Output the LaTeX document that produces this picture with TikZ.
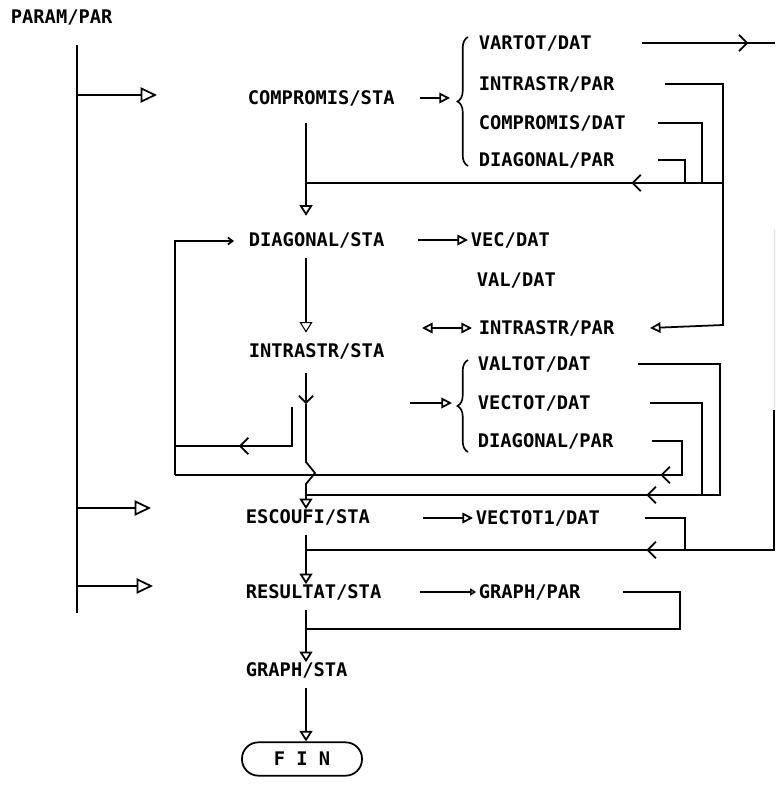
\documentclass[tikz,border=0pt]{standalone}
\usepackage{fontspec}
\newfontfamily\dvm{DejaVu Sans Mono}
\usetikzlibrary{arrows.meta,decorations.pathreplacing,decorations.markings}

\begin{document}
\begin{tikzpicture}[x=0.03cm, y=-0.03cm, line width=1.5pt,
    txt/.style = {font=\dvm\bfseries\fontsize{16}{18}\selectfont, inner sep=0pt, text depth=0pt, anchor=west},
    bus/.style = {-{Triangle[open,length=14pt,width=13pt]}},
    down/.style = {-{Triangle[open,length=9pt,width=11pt]}},
    tip/.style = {-{Triangle[open,length=9pt,width=9pt]}},
    dbl/.style = {{Triangle[open,length=9pt,width=9pt]}-{Triangle[open,length=9pt,width=9pt]}},
    midarr/.style = {postaction={decorate, decoration={markings,
        mark=at position #1 with {\arrow{Straight Barb[length=7pt,width=14pt]}}}}},
    brc/.style = {decorate, decoration={brace, amplitude=9pt}, line width=1.4pt}]
    \useasboundingbox (0,0) rectangle (775,785);

    \node[txt] (param) at (10,17) {PARAM/PAR};
    \node[txt] (cst) at (247,98) {COMPROMIS/STA};
    \node[txt] (vartot) at (478,43) {VARTOT/DAT};
    \node[txt] (intrp) at (478,84) {INTRASTR/PAR};
    \node[txt] (compd) at (478,123) {COMPROMIS/DAT};
    \node[txt] (diagp) at (478,160) {DIAGONAL/PAR};
    \node[txt] (dst) at (248,240) {DIAGONAL/STA};
    \node[txt] (vec) at (470,240) {VEC/DAT};
    \node[txt] (val) at (476,280) {VAL/DAT};
    \node[txt] (intrq) at (478,328) {INTRASTR/PAR};
    \node[txt] (ist) at (248,351) {INTRASTR/STA};
    \node[txt] (valtot) at (477,364) {VALTOT/DAT};
    \node[txt] (vectot) at (477,403) {VECTOT/DAT};
    \node[txt] (diagq) at (477,441) {DIAGONAL/PAR};
    \node[txt] (est) at (245,517) {ESCOUFI/STA};
    \node[txt] (vectoti) at (475,518) {VECTOT1/DAT};
    \node[txt] (rst) at (245,592) {RESULTAT/STA};
    \node[txt] (graphp) at (478,592) {GRAPH/PAR};
    \node[txt] (gst) at (245,670) {GRAPH/STA};
    \node[txt, anchor=center, draw, rounded corners=14pt, minimum width=3.6cm, minimum height=1cm] (fin) at (302,759) {F I N};

    \coordinate (bustop) at (77,45);
    \coordinate (busend) at (77,613);
    \coordinate (redge) at (774,550);

    % PARAM/PAR bus
    \draw (bustop) -- (busend);
    \draw[bus] (bustop |- cst) ++(0,-3) -- ++(80,0);
    \draw[bus] (bustop |- est) ++(0,-9) -- ++(74,0);
    \draw[bus] (bustop |- rst) ++(0,-6) -- ++(76,0);

    % main column
    \draw[down, shorten <=15pt, shorten >=14pt] (cst.south -| 306,0) -- (dst.north -| 306,0);
    \draw[down, line width=0.9pt, shorten <=9pt, shorten >=9pt] (dst.south -| 306,0) -- (ist.north -| 306,0);
    \draw[-{Straight Barb[length=6pt,width=12pt]}] (306,373) -- (306,404);
    \draw[down] (306,404) -- (306,462) -- (315,473) -- (306,484) -- (est.north -| 306,0);
    \draw[down] (306,535) -- (rst.north -| 306,0);
    \draw[down] (306,610) -- (gst.north -| 306,0);
    \draw[down] (306,688) -- (fin.north -| 306,0);

    % COMPROMIS/STA
    \draw[tip] (420,98) -- (450,98);
    \draw[brc] (468,166) -- (468,37);
    \draw[midarr=0.8] (vartot.east -| 642,0) -- (775,43);
    \draw[tip] (intrp.east -| 665,0) -| (723,325) -- (intrq.east -| 650,0);
    \draw (compd.east -| 658,0) -| (702,183);
    \draw (diagp.east -| 658,0) -| (685,183);
    \draw[midarr=0.22] (723,183) -- (306,183);

    % DIAGONAL/STA
    \draw[tip] (418,240) -- (468,240);
    \draw[-{Straight Barb[length=4pt,width=6pt]}] (175,475) -- (175,241) -- (234,241);

    % INTRASTR/STA
    \draw[dbl] (422,328) -- (472,328);
    \draw[tip] (410,403) -- (452,403);
    \draw[brc] (468,452) -- (468,360);
    \draw[midarr=0.457] (valtot.east -| 638,0) -| (720,495) -- (306,495);
    \draw (vectot.east -| 650,0) -| (702,495);
    \draw[midarr=0.15] (diagq.east -| 652,0) -| (682,475) -- (175,475);
    \draw[midarr=0.59] (292,407) -- (292,446) -- (175,446);

    % ESCOUFI/STA
    \draw[tip] (423,518) -- (473,518);
    \draw (vectoti.east -| 645,0) -| (685,550);
    \draw[gray!25, line width=0.8pt] (774,230) -- (774,410);
    \draw[midarr=0.44] (774,410) -- (redge) -- (306,550);

    % RESULTAT/STA
    \draw[-{Triangle[open,length=5pt,width=6pt]}] (420,592) -- (476,592);
    \draw (graphp.east -| 623,0) -| (680,629) -- (306,629);
\end{tikzpicture}
\end{document}
